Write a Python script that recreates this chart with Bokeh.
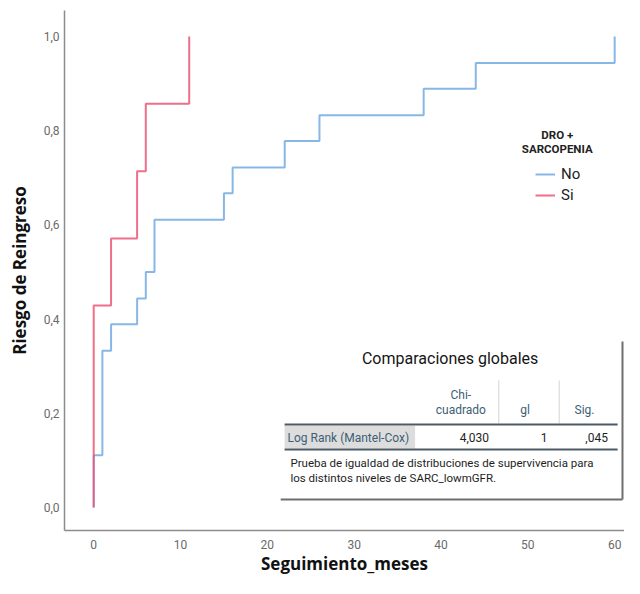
from bokeh.plotting import figure
from bokeh.models import Range1d, FixedTicker, Label, Legend, LegendItem
from bokeh.embed import file_html
from bokeh.resources import INLINE

# ---- data (cumulative risk of readmission) ----
no_time = [0, 0, 1, 2, 5, 6, 7, 15, 16, 22, 26, 38, 44, 60]
no_risk = [0.0, 0.111, 0.333, 0.389, 0.444, 0.500, 0.611, 0.667, 0.722, 0.778, 0.833, 0.889, 0.944, 1.0]
si_time = [0, 0, 2, 5, 6, 11]
si_risk = [0.0, 0.429, 0.571, 0.714, 0.857, 1.0]

x_ticks = [0, 10, 20, 30, 40, 50, 60]
y_ticks = [0.0, 0.2, 0.4, 0.6, 0.8, 1.0]
y_tick_labels = ["0,0", "0,2", "0,4", "0,6", "0,8", "1,0"]

x_title = "Seguimiento_meses"
y_title = "Riesgo de Reingreso"
group_labels = ["No", "Si"]
legend_title = ["DRO +", "SARCOPENIA"]

table_title = "Comparaciones globales"
table_cols = ["Chi-\ncuadrado", "gl", "Sig."]
table_row = "Log Rank (Mantel-Cox)"
table_vals = ["4,030", "1", ",045"]
table_note = ["Prueba de igualdad de distribuciones de supervivencia para",
              "los distintos niveles de SARC_lowmGFR."]

BLUE = "#7AAFE4"
RED = "#EC5574"
FONT = "Roboto"

# layout constants
K = 0.9738          # horizontal compression of the reference layout
X0 = 93.2           # pixel of x = 0
PX = 8.683          # pixels per month
FL, FR = 64, 624    # frame left / right (px)

p = figure(width=624, height=578, output_backend="svg", toolbar_location=None,
           x_range=Range1d((FL - X0) / PX, (FR - X0) / PX), y_range=Range1d(-0.0488, 1.0552),
           min_border_left=64, min_border_right=0, min_border_top=10, min_border_bottom=48)
p.outline_line_color = None
p.grid.visible = False
p.background_fill_color = "white"

for ax in (p.xaxis[0], p.yaxis[0]):
    ax.axis_line_color = "#8c8c8c"
    ax.axis_line_width = 1.5
    ax.major_tick_line_color = None
    ax.minor_tick_line_color = None
    ax.major_tick_out = 0
    ax.major_tick_in = 0
    ax.major_label_text_font = FONT
    ax.major_label_text_font_size = "12px"
    ax.major_label_text_color = "#6a6a6a"
    ax.axis_label_text_font = "Open Sans"
    ax.axis_label_text_font_style = "bold"
    ax.axis_label_text_font_size = "17px"
    ax.axis_label_text_color = "#111111"

p.xaxis.ticker = FixedTicker(ticks=x_ticks)
p.yaxis.ticker = FixedTicker(ticks=y_ticks)
p.yaxis.major_label_overrides = dict(zip(y_ticks, y_tick_labels))
p.xaxis.major_label_standoff = 9
p.yaxis.major_label_standoff = 5
p.xaxis.axis_label = x_title
p.yaxis.axis_label = y_title
p.xaxis.axis_label_standoff = 0
p.yaxis.axis_label_standoff = 10

# curves
r_no = p.step(no_time, no_risk, mode="after", line_color=BLUE, line_width=2, line_alpha=0.9)
r_si = p.step(si_time, si_risk, mode="after", line_color=RED, line_width=2, line_alpha=0.85)


# helpers: reference pixel placement -> data position (annotations only)
def dx(rx):
    return (FL + (rx - FL) * K - X0) / PX


def dy(ry):
    return (507 - ry) / 471


# legend
legend = Legend(items=[LegendItem(label=group_labels[0], renderers=[r_no]),
                       LegendItem(label=group_labels[1], renderers=[r_si])],
                location=(471, 325), margin=0, padding=0, spacing=1,
                glyph_width=20, glyph_height=20, label_standoff=6,
                label_text_font=FONT, label_text_font_size="15px",
                label_text_color="#222222", border_line_color=None,
                background_fill_alpha=0)
p.add_layout(legend)

for i, t in enumerate(legend_title):
    p.add_layout(Label(x=dx(570), y=dy(134 + 14 * i), text=t, text_align="center",
                       text_baseline="middle", text_font=FONT, text_font_style="bold",
                       text_font_size="11.5px", text_color="#222222"))

# ---- table "Comparaciones globales" ----
p.quad(left=[dx(290)], right=[dx(424)], top=[dy(425)], bottom=[dy(448)],
       fill_color="#DDDDDD", line_color=None)
p.segment(x0=[dx(510), dx(572)], y0=[dy(380), dy(380)], x1=[dx(510), dx(572)], y1=[dy(423), dy(423)],
          line_color="#D4D4D4", line_width=1)
p.segment(x0=[dx(290), dx(290)], y0=[dy(424), dy(449)], x1=[dx(632), dx(632)], y1=[dy(424), dy(449)],
          line_color="#4D5B66", line_width=2)
p.segment(x0=[dx(637), dx(286)], y0=[dy(341), dy(499)], x1=[dx(637), dx(637)], y1=[dy(499), dy(499)],
          line_color="#6E6E6E", line_width=2)

p.add_layout(Label(x=dx(460), y=dy(358), text=table_title, text_align="center",
                   text_baseline="middle", text_font=FONT, text_font_size="16px",
                   text_color="#151515"))

HDR = "#3D5E75"
head_x = [471, 537, 598]
for hx, t in zip(head_x, table_cols):
    lines = t.split("\n")
    for j, ln in enumerate(reversed(lines)):
        p.add_layout(Label(x=dx(hx), y=dy(409 - 15 * j), text=ln, text_align="center",
                           text_baseline="middle", text_font=FONT,
                           text_font_size="12px", text_color=HDR))

p.add_layout(Label(x=dx(293), y=dy(437), text=table_row, text_align="left",
                   text_baseline="middle", text_font=FONT, text_font_size="12px",
                   text_color=HDR))
val_x = [500, 560, 622]
for vx, t in zip(val_x, table_vals):
    p.add_layout(Label(x=dx(vx), y=dy(437), text=t, text_align="right",
                       text_baseline="middle", text_font=FONT, text_font_size="12px",
                       text_color="#1E1E1E"))
for j, t in enumerate(table_note):
    p.add_layout(Label(x=dx(296), y=dy(462 + 15 * j), text=t, text_align="left",
                       text_baseline="middle", text_font=FONT, text_font_size="11.5px",
                       text_color="#1E1E1E"))

open("out.html", "w").write(file_html(p, INLINE))
